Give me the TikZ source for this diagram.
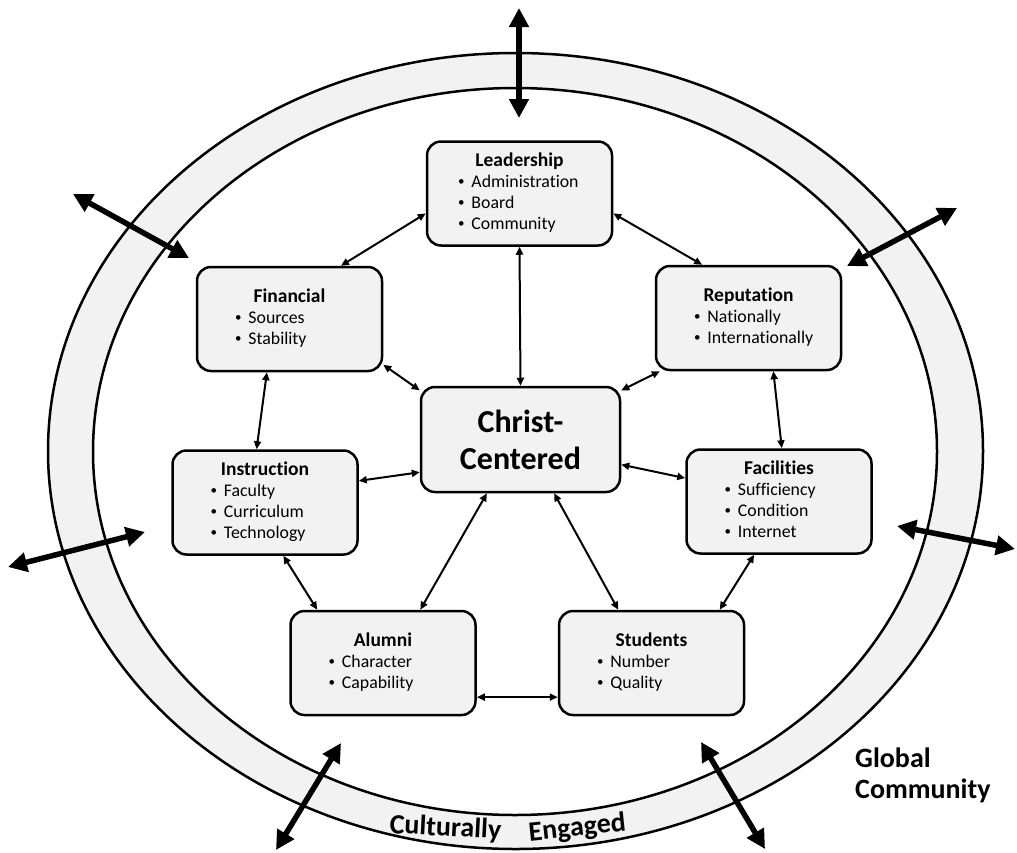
\documentclass[tikz,border=0pt]{standalone}
\usepackage{fontspec}
\setmainfont{Carlito}[Ligatures={NoCommon}]
\usepackage{xcolor}
\usetikzlibrary{arrows.meta}

\definecolor{boxgray}{HTML}{F2F2F2}
\newcommand{\boxtitle}[1]{\multicolumn{1}{@{}c@{}}{\fontsize{19.5}{21}\selectfont\bfseries #1}}
\newcommand{\bul}{{\fontsize{13}{13}\selectfont\raisebox{1.3pt}{\textbullet}}\hspace{7pt}}
\newcommand{\area}[3][38pt]{\begin{tabular}{@{\hspace{#1}}p{\dimexpr185pt-#1\relax}@{}}\boxtitle{#2}\\#3\end{tabular}}

\begin{document}
\begin{tikzpicture}[x=1pt, y=-1pt,
  box/.style={draw, line width=2.5pt, rounded corners=14pt, fill=boxgray,
              minimum width=185pt, minimum height=104pt, inner sep=0pt,
              font=\fontsize{17.8}{21}\selectfont},
  core/.style={box, minimum width=199pt, minimum height=105pt, align=center,
               font=\fontsize{32}{37}\selectfont\bfseries},
  arr/.style={{Triangle[length=8pt,width=7pt]}-{Triangle[length=8pt,width=7pt]}, line width=2pt},
  bigarr/.style={{Triangle[length=19pt,width=19pt]}-{Triangle[length=19pt,width=19pt]}, line width=5.5pt},
  ring/.style={line width=2.5pt},
  tag/.style={font=\fontsize{28}{28}\selectfont\bfseries, inner sep=0pt, anchor=base}]
\useasboundingbox (0,0) rectangle (1017,852);
% outer ring
\fill[boxgray, even odd rule] (515.5,451) ellipse [x radius=467.5, y radius=398]
  (515,451.5) ellipse [x radius=422, y radius=363.5];
\draw[ring] (515.5,451) ellipse [x radius=467.5, y radius=398];
\draw[ring] (515,451.5) ellipse [x radius=422, y radius=363.5];
\node[tag, rotate=-3] (cult) at (445,836) {Culturally};
\node[tag, rotate=6] (eng) at (578,836) {Engaged};
\node[font=\fontsize{28}{31}\selectfont\bfseries, align=left, anchor=north west,
      inner sep=0pt] (glob) at (855,748) {Global\\Community};
% arrows through the ring
\coordinate (n-out) at (519,8);     \coordinate (n-in) at (519,118);
\coordinate (nw-out) at (73,194);   \coordinate (nw-in) at (189,258);
\coordinate (ne-out) at (957,208);  \coordinate (ne-in) at (847,266);
\coordinate (w-out) at (8,567);     \coordinate (w-in) at (145,532);
\coordinate (e-out) at (1015,549);  \coordinate (e-in) at (897,526);
\coordinate (sw-out) at (276,850);  \coordinate (sw-in) at (341,743);
\coordinate (se-out) at (765,849);  \coordinate (se-in) at (701,742);
\draw[bigarr] (n-out)--(n-in); \draw[bigarr] (nw-out)--(nw-in); \draw[bigarr] (ne-out)--(ne-in);
\draw[bigarr] (w-out)--(w-in); \draw[bigarr] (e-out)--(e-in);
\draw[bigarr] (sw-out)--(sw-in); \draw[bigarr] (se-out)--(se-in);
% areas
\node[box] (lead) at (519.5,193.5) {\area[31pt]{Leadership}{\bul Administration\\ \bul Board\\ \bul Community}};
\node[box] (fin) at (289.5,319) {\area{Financial}{\bul Sources\\ \bul Stability}};
\node[box] (rep) at (748.5,318) {\area{Reputation}{\bul Nationally\\ \bul Internationally}};
\node[core] (chr) at (520.5,439.5) {Christ-\\Centered};
\node[box] (ins) at (265,502.5) {\area{Instruction}{\bul Faculty\\ \bul Curriculum\\ \bul Technology}};
\node[box] (fac) at (779,501.5) {\area{Facilities}{\bul Sufficiency\\ \bul Condition\\ \bul Internet}};
\node[box] (alu) at (383,663) {\area{Alumni}{\bul Character\\ \bul Capability}};
\node[box] (stu) at (651.5,663) {\area{Students}{\bul Number\\ \bul Quality}};
% links
\draw[arr] (lead.192)--(fin.46); \draw[arr] (lead.348)--(rep.131);
\draw[arr] (lead.south)--(chr.north);
\draw[arr] (fin.334)--(chr.154); \draw[arr] (rep.211)--(chr.26);
\draw[arr] (fin.247)--(ins.99); \draw[arr] (rep.295)--(fac.87);
\draw[arr] (ins.13)--(chr.198); \draw[arr] (fac.166)--(chr.346);
\draw[arr] (chr.238)--(alu.55); \draw[arr] (chr.302)--(stu.122);
\draw[arr] (ins.289)--(alu.141); \draw[arr] (fac.245)--(stu.38);
\draw[arr] (alu.340)--(stu.200);
\end{tikzpicture}
\end{document}
